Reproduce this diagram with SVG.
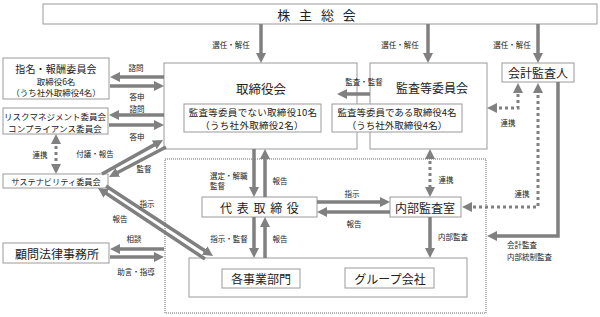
<svg xmlns="http://www.w3.org/2000/svg" width="600" height="317" viewBox="0 0 600 317">
<defs>
<marker id="ah" markerUnits="userSpaceOnUse" markerWidth="10" markerHeight="10" refX="4" refY="5" orient="auto-start-reverse" viewBox="0 0 10 10">
<path d="M0,0 L10,5 L0,10 z" fill="#808080"/>
</marker>
<style>
text{font-family:"Noto Sans CJK JP","Noto Sans",sans-serif;fill:#222;dominant-baseline:central;text-anchor:middle}
.box{fill:#fff;stroke:#9a9a9a;stroke-width:1}
.cont{fill:none;stroke:#666;stroke-width:1;stroke-dasharray:1 1}
.a{fill:none;stroke:#808080;stroke-width:3.5;marker-end:url(#ah)}
.d{fill:none;stroke:#808080;stroke-width:3;stroke-dasharray:3 3;marker-start:url(#ah);marker-end:url(#ah)}
.s{fill:none;stroke:#808080;stroke-width:3.5;marker-end:url(#ah)}
.lb{font-size:7.5px}
.t12{font-size:12px}
.t10{font-size:9.5px}
.t9{font-size:8.5px}
.st{text-anchor:start}
</style>
</defs>
<rect width="600" height="317" fill="#fff"/>
<g id="container"><rect class="cont" x="165" y="159" width="321" height="154"/></g>
<g id="kabunushi"><rect class="box" x="43" y="4" width="554" height="20"/><text x="318" y="14" style="font-size:13px;letter-spacing:3px">株 主 総 会</text></g>
<g id="torishimariyakukai"><rect class="box" x="164" y="63" width="193" height="86"/><text class="t12" x="261" y="88" style="font-size:12.5px">取締役会</text></g>
<g id="kansatoiinkai"><rect class="box" x="370" y="63" width="117" height="86"/><text class="t12" x="432" y="87">監査等委員会</text></g>
<g id="torishimari-inner"><rect class="box" x="184" y="104" width="137" height="28"/><text class="t10" x="253" y="112" style="letter-spacing:0.3px">監査等委員でない取締役10名</text><text class="t10" x="252" y="125" style="letter-spacing:0.3px">（うち社外取締役2名）</text></g>
<g id="kansa-inner"><rect class="box" x="332" y="104" width="130" height="28"/><text class="t10" x="397" y="112">監査等委員である取締役4名</text><text class="t10" x="397" y="125">（うち社外取締役4名）</text></g>
<g id="kaikeikansanin"><rect class="box" x="502" y="63" width="72" height="19"/><text class="t12" x="538" y="72.5">会計監査人</text></g>
<g id="shimei"><rect class="box" x="3" y="58" width="106" height="41"/><text x="56" y="68" style="font-size:10px;letter-spacing:0.2px">指名・報酬委員会</text><text class="t9" x="56" y="80.5">取締役6名</text><text class="t9" x="56" y="92">（うち社外取締役4名）</text></g>
<g id="risk"><rect class="box" x="3" y="108" width="105" height="26"/><text x="55" y="115.5" style="font-size:8.5px">リスクマネジメント委員会</text><text x="55" y="127.5" style="font-size:8.5px;letter-spacing:0.1px">コンプライアンス委員会</text></g>
<g id="sustainability"><rect class="box" x="3" y="174" width="105" height="14"/><text x="56" y="181" style="font-size:8.2px">サステナビリティ委員会</text></g>
<g id="komon"><rect class="box" x="3" y="243" width="106" height="20"/><text class="t12" x="57" y="253">顧問法律事務所</text></g>
<g id="daihyo"><rect class="box" x="202" y="197" width="115" height="20"/><text class="t12" x="260" y="207" style="letter-spacing:1px">代 表 取 締 役</text></g>
<g id="naibukansa"><rect class="box" x="390" y="197" width="71" height="20"/><text class="t12" x="425" y="207">内部監査室</text></g>
<g id="jigyo-group"><rect class="box" x="189" y="258" width="278" height="39"/></g>
<g id="jigyobumon"><rect class="box" x="222" y="269" width="78" height="19"/><text class="t12" x="261" y="278.5">各事業部門</text></g>
<g id="groupkaisha"><rect class="box" x="345" y="268" width="89" height="20"/><text class="t12" x="390" y="278">グループ会社</text></g>
<g id="connectors">
<line class="a" x1="261" y1="24" x2="261" y2="57"/>
<line class="a" x1="428" y1="24" x2="428" y2="57"/>
<line class="a" x1="538" y1="24" x2="538" y2="57"/>
<line class="a" x1="164" y1="77" x2="116" y2="77"/>
<line class="a" x1="110" y1="86" x2="158" y2="86"/>
<line class="a" x1="164" y1="115" x2="115" y2="115"/>
<line class="a" x1="109" y1="125" x2="158" y2="125"/>
<line class="a" x1="102" y1="174" x2="157.8" y2="142.9"/>
<line class="a" x1="166" y1="147" x2="114.3" y2="174.2"/>
<line class="a" x1="106" y1="186" x2="208" y2="252.7"/>
<line class="a" x1="205" y1="259" x2="103" y2="191.3"/>
<line class="a" x1="164" y1="249" x2="116" y2="249"/>
<line class="a" x1="110" y1="257" x2="158" y2="257"/>
<line class="a" x1="254" y1="149" x2="254" y2="191"/>
<line class="a" x1="265" y1="197" x2="265" y2="155"/>
<line class="a" x1="254" y1="217" x2="254" y2="252"/>
<line class="a" x1="265" y1="258" x2="265" y2="223"/>
<line class="a" x1="317" y1="202" x2="384" y2="202"/>
<line class="a" x1="390" y1="212" x2="323" y2="212"/>
<line class="a" x1="430" y1="217" x2="430" y2="252"/>
<line class="a" x1="370" y1="94" x2="343" y2="94"/>
<path class="s" d="M558,82 V236 H493"/>
<line class="d" x1="430" y1="155" x2="430" y2="191"/>
<path class="d" d="M493,108 H518 V89"/>
<path class="d" d="M538,89 V207 H468"/>
<line class="d" x1="56" y1="140" x2="56" y2="168"/>
</g>
<g id="labels">
<text class="lb" x="231" y="44">選任・解任</text>
<text class="lb" x="400" y="44">選任・解任</text>
<text class="lb" x="512" y="44">選任・解任</text>
<text class="lb" x="364" y="81">監査・監督</text>
<text class="lb" x="136" y="67">諮問</text>
<text class="lb" x="137" y="96">答申</text>
<text class="lb" x="137" y="108.5">諮問</text>
<text class="lb" x="137" y="136">答申</text>
<text class="lb" x="40" y="154">連携</text>
<text class="lb" x="95" y="153">付議・報告</text>
<text class="lb" x="144" y="168">監督</text>
<text class="lb" x="147" y="203">指示</text>
<text class="lb" x="120" y="218">報告</text>
<text class="lb" x="134" y="238">相談</text>
<text class="lb" x="136" y="271">助言・指導</text>
<text class="lb st" x="210" y="175">選定・解職</text>
<text class="lb st" x="210" y="185">監督</text>
<text class="lb" x="280" y="180">報告</text>
<text class="lb" x="229" y="238">指示・監督</text>
<text class="lb" x="280" y="238">報告</text>
<text class="lb" x="352" y="193">指示</text>
<text class="lb" x="354" y="223">報告</text>
<text class="lb" x="453" y="236">内部監査</text>
<text class="lb" x="446" y="179">連携</text>
<text class="lb" x="508" y="122">連携</text>
<text class="lb" x="522" y="193">連携</text>
<text class="lb st" x="507" y="244">会計監査</text>
<text class="lb st" x="507" y="256">内部統制監査</text>
</g>
</svg>
